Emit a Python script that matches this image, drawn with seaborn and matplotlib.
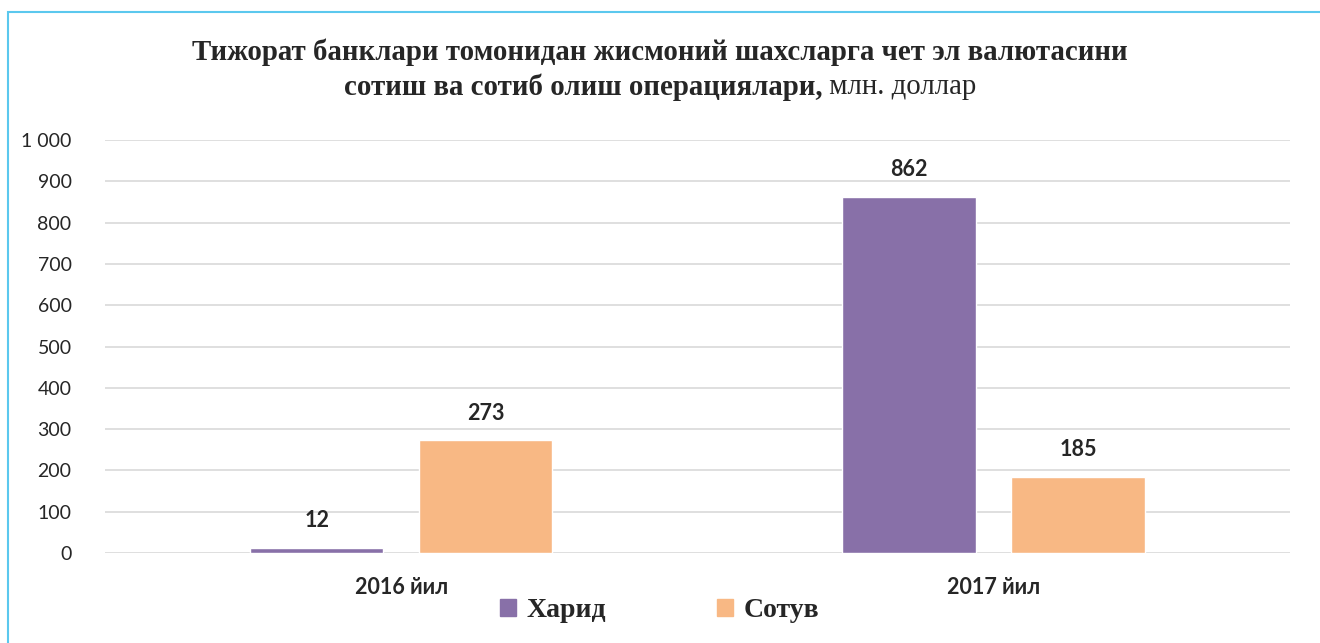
import pandas
import seaborn
from matplotlib import pyplot
from matplotlib.patches import Rectangle

# data
years = ['2016 йил', '2017 йил']
series_names = ['Харид', 'Сотув']
harid_values = [12, 862]
sotuv_values = [273, 185]
y_ticks = [0, 100, 200, 300, 400, 500, 600, 700, 800, 900, 1000]
y_tick_labels = ['0', '100', '200', '300', '400', '500', '600', '700', '800', '900', '1 000']

colors = ['#8870A8', '#F8B884']

data = pandas.DataFrame({
    'year': years * 2,
    'series': [series_names[0]] * 2 + [series_names[1]] * 2,
    'value': harid_values + sotuv_values,
})

seaborn.set_style('white')
pyplot.rcParams['font.family'] = ['Lato', 'DejaVu Sans']

figure = pyplot.figure(figsize=(13.2, 6.43), dpi=100)
axes = figure.add_axes([0.0795, 0.14, 0.8975, 0.642])

seaborn.barplot(
    data=data, x='year', y='value', hue='series',
    palette=colors, width=0.57, gap=0.21,
    saturation=1, legend=False, ax=axes,
)

# bar labels
for container in axes.containers:
    axes.bar_label(container, padding=12, fontsize=15.5, fontweight='bold')

# axes decorations
axes.set_ylim(0, 1000)
axes.set_xlim(-0.5, 1.5)
axes.set_yticks(y_ticks)
axes.set_yticklabels(y_tick_labels, fontsize=14)
axes.set_xlabel('')
axes.set_ylabel('')
axes.tick_params(axis='y', length=0, pad=24)
axes.tick_params(axis='x', length=0, pad=17)
for label in axes.get_xticklabels():
    label.set_fontsize(15.5)
    label.set_fontweight('bold')
axes.yaxis.grid(True, color='#D9D9D9', linewidth=1.2)
axes.set_axisbelow(True)
for side in ['top', 'right', 'left', 'bottom']:
    axes.spines[side].set_visible(False)

# title, bold part plus normal unit part
serif = ['Liberation Serif', 'DejaVu Serif']
title_size = 20.8
figure.text(0.5, 0.918, 'Тижорат банклари томонидан жисмоний шахсларга чет эл валютасини',
            ha='center', va='center', fontsize=title_size, fontweight='bold', family=serif)
renderer = figure.canvas.get_renderer()
bold_part = figure.text(0, 0.864, 'сотиш ва сотиб олиш операциялари,',
                        ha='left', va='center', fontsize=title_size, fontweight='bold',
                        family=serif)
unit_part = figure.text(0, 0.864, ' млн. доллар',
                        ha='left', va='center', fontsize=title_size, family=serif)
bold_width = bold_part.get_window_extent(renderer).width
unit_width = unit_part.get_window_extent(renderer).width
fig_width = figure.bbox.width
start = (fig_width - bold_width - unit_width) / 2 / fig_width
bold_part.set_x(start)
unit_part.set_x(start + bold_width / fig_width)

# legend
handles = [Rectangle((0, 0), 1, 1, color=c) for c in colors]
figure.legend(handles, series_names, loc='center', bbox_to_anchor=(0.5, 0.05),
              ncol=2, frameon=False, handlelength=0.55, handleheight=0.55,
              handletextpad=0.4, columnspacing=4.0,
              prop={'family': serif, 'weight': 'bold', 'size': 20})

# light blue frame
figure.add_artist(Rectangle((8 / 1320, -0.01), 1.1, (643 - 12) / 643 + 0.01,
                            transform=figure.transFigure, fill=False,
                            edgecolor='#5BC8EE', linewidth=1.5))

figure.savefig('out.png', dpi=100)
